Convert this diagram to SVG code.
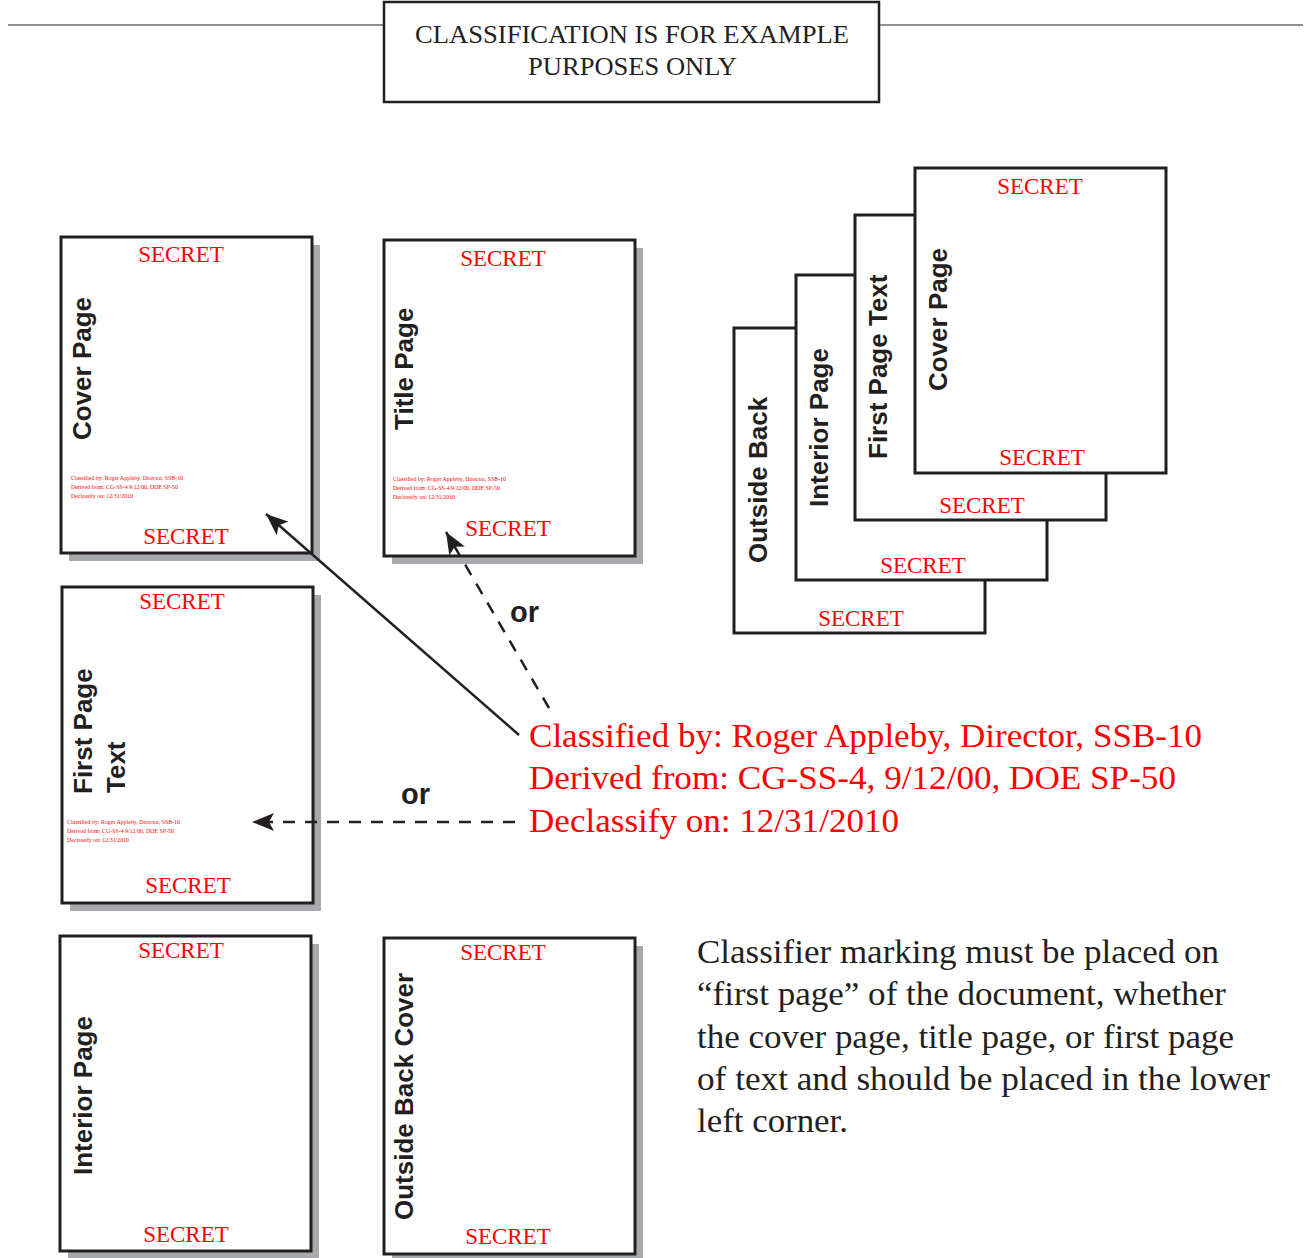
<svg xmlns="http://www.w3.org/2000/svg" width="1305" height="1258" viewBox="0 0 1305 1258">
<style>
.page{fill:#fff;stroke:#231f20;stroke-width:3}
.shadow{fill:#a7a9ac}
.sec{font-family:"Liberation Serif",serif;font-size:23px;fill:#ff0000;text-anchor:middle}
.lbl{font-family:"Liberation Sans",Arial,sans-serif;font-weight:bold;font-size:26px;fill:#231f20}
.tiny{font-family:"Liberation Serif",serif;font-size:5.5px;fill:#ff0000}
.red{font-family:"Liberation Serif",serif;font-size:33px;fill:#ff0000}
.para{font-family:"Liberation Serif",serif;font-size:33px;fill:#231f20}
.hdr{font-family:"Liberation Serif",serif;font-size:25px;fill:#231f20}
.or{font-family:"Liberation Sans",Arial,sans-serif;font-weight:bold;font-size:29px;fill:#231f20}
.conn{stroke:#231f20;stroke-width:2.5;fill:none}
</style>
<defs>
<marker id="ah" markerUnits="userSpaceOnUse" markerWidth="24" markerHeight="18" refX="22" refY="9" orient="auto">
<path d="M0,0 L22,9 L0,18 L5,9 Z" fill="#231f20"/>
</marker>
</defs>
<rect width="1305" height="1258" fill="#fff"/>

<g id="header">
<line x1="8" y1="25" x2="384" y2="25" stroke="#231f20" stroke-width="1"/>
<line x1="879" y1="25" x2="1303" y2="25" stroke="#231f20" stroke-width="1"/>
<rect x="384" y="2" width="495" height="100" fill="#fff" stroke="#231f20" stroke-width="2.5"/>
<text class="hdr" x="415" y="43" textLength="434" lengthAdjust="spacingAndGlyphs">CLASSIFICATION IS FOR EXAMPLE</text>
<text class="hdr" x="528" y="75" textLength="209" lengthAdjust="spacingAndGlyphs">PURPOSES ONLY</text>
</g>

<g id="cover-page">
<rect class="shadow" x="69" y="245" width="251" height="316"/>
<rect class="page" x="61" y="237" width="251" height="316"/>
<text class="sec" x="181" y="262">SECRET</text>
<text class="sec" x="186" y="544">SECRET</text>
<text class="lbl" transform="translate(91,440) rotate(-90)">Cover Page</text>
<text class="tiny" x="71" y="480" textLength="112" lengthAdjust="spacingAndGlyphs">Classified by: Roger Appleby, Director, SSB-10</text>
<text class="tiny" x="71" y="489" textLength="107" lengthAdjust="spacingAndGlyphs">Derived from: CG-SS-4 9/12/00, DOE SP-50</text>
<text class="tiny" x="71" y="498" textLength="62" lengthAdjust="spacingAndGlyphs">Declassify on: 12/31/2010</text>
</g>

<g id="title-page">
<rect class="shadow" x="392" y="248" width="251" height="316"/>
<rect class="page" x="384" y="240" width="251" height="316"/>
<text class="sec" x="503" y="266">SECRET</text>
<text class="sec" x="508" y="536">SECRET</text>
<text class="lbl" transform="translate(413,430) rotate(-90)">Title Page</text>
<text class="tiny" x="393" y="481" textLength="113" lengthAdjust="spacingAndGlyphs">Classified by: Roger Appleby, Director, SSB-10</text>
<text class="tiny" x="393" y="490" textLength="107" lengthAdjust="spacingAndGlyphs">Derived from: CG-SS-4 9/12/00, DOE SP-50</text>
<text class="tiny" x="393" y="499" textLength="62" lengthAdjust="spacingAndGlyphs">Declassify on: 12/31/2010</text>
</g>

<g id="first-page-text">
<rect class="shadow" x="70" y="595" width="251" height="316"/>
<rect class="page" x="62" y="587" width="251" height="316"/>
<text class="sec" x="182" y="609">SECRET</text>
<text class="sec" x="188" y="893">SECRET</text>
<text class="lbl" transform="translate(92,794) rotate(-90)">First Page</text>
<text class="lbl" transform="translate(125,793) rotate(-90)">Text</text>
<text class="tiny" x="67" y="824" textLength="113" lengthAdjust="spacingAndGlyphs">Classified by: Roger Appleby, Director, SSB-10</text>
<text class="tiny" x="67" y="833" textLength="107" lengthAdjust="spacingAndGlyphs">Derived from: CG-SS-4 9/12/00, DOE SP-50</text>
<text class="tiny" x="67" y="842" textLength="62" lengthAdjust="spacingAndGlyphs">Declassify on: 12/31/2010</text>
</g>

<g id="interior-page">
<rect class="shadow" x="68" y="944" width="251" height="315"/>
<rect class="page" x="60" y="936" width="251" height="315"/>
<text class="sec" x="181" y="958">SECRET</text>
<text class="sec" x="186" y="1242">SECRET</text>
<text class="lbl" transform="translate(92,1175) rotate(-90)">Interior Page</text>
</g>

<g id="outside-back-cover">
<rect class="shadow" x="392" y="946" width="251" height="316"/>
<rect class="page" x="384" y="938" width="251" height="316"/>
<text class="sec" x="503" y="960">SECRET</text>
<text class="sec" x="508" y="1244">SECRET</text>
<text class="lbl" transform="translate(413,1220) rotate(-90)">Outside Back Cover</text>
</g>

<g id="stack">
<g id="stack-outside-back">
<rect class="page" x="734" y="328" width="251" height="305"/>
<text class="sec" x="861" y="626">SECRET</text>
<text class="lbl" transform="translate(767,563) rotate(-90)">Outside Back</text>
</g>
<g id="stack-interior">
<rect class="page" x="796" y="275" width="251" height="305"/>
<text class="sec" x="923" y="573">SECRET</text>
<text class="lbl" transform="translate(828,507) rotate(-90)">Interior Page</text>
</g>
<g id="stack-first-page-text">
<rect class="page" x="855" y="215" width="251" height="305"/>
<text class="sec" x="982" y="513">SECRET</text>
<text class="lbl" transform="translate(887,459) rotate(-90)">First Page Text</text>
</g>
<g id="stack-cover">
<rect class="page" x="915" y="168" width="251" height="305"/>
<text class="sec" x="1040" y="194">SECRET</text>
<text class="sec" x="1042" y="465">SECRET</text>
<text class="lbl" transform="translate(947,391) rotate(-90)">Cover Page</text>
</g>
</g>

<g id="connectors">
<line class="conn" x1="519" y1="735" x2="266" y2="514" marker-end="url(#ah)"/>
<line class="conn" x1="549" y1="708" x2="446" y2="532" stroke-dasharray="12,10" marker-end="url(#ah)"/>
<line class="conn" x1="515" y1="822" x2="252" y2="822" stroke-dasharray="12,10" marker-end="url(#ah)"/>
</g>

<g id="or-labels">
<text class="or" x="510" y="622">or</text>
<text class="or" x="401" y="804">or</text>
</g>

<g id="classifier-block">
<text class="red" x="529" y="747" textLength="673" lengthAdjust="spacingAndGlyphs">Classified by: Roger Appleby, Director, SSB-10</text>
<text class="red" x="529" y="789" textLength="647" lengthAdjust="spacingAndGlyphs">Derived from: CG-SS-4, 9/12/00, DOE SP-50</text>
<text class="red" x="529" y="832" textLength="370" lengthAdjust="spacingAndGlyphs">Declassify on: 12/31/2010</text>
</g>

<g id="note">
<text class="para" x="697" y="963" textLength="522" lengthAdjust="spacingAndGlyphs">Classifier marking must be placed on</text>
<text class="para" x="697" y="1005" textLength="529" lengthAdjust="spacingAndGlyphs">“first page” of the document, whether</text>
<text class="para" x="697" y="1048" textLength="537" lengthAdjust="spacingAndGlyphs">the cover page, title page, or first page</text>
<text class="para" x="697" y="1090" textLength="573" lengthAdjust="spacingAndGlyphs">of text and should be placed in the lower</text>
<text class="para" x="697" y="1132" textLength="151" lengthAdjust="spacingAndGlyphs">left corner.</text>
</g>
</svg>
